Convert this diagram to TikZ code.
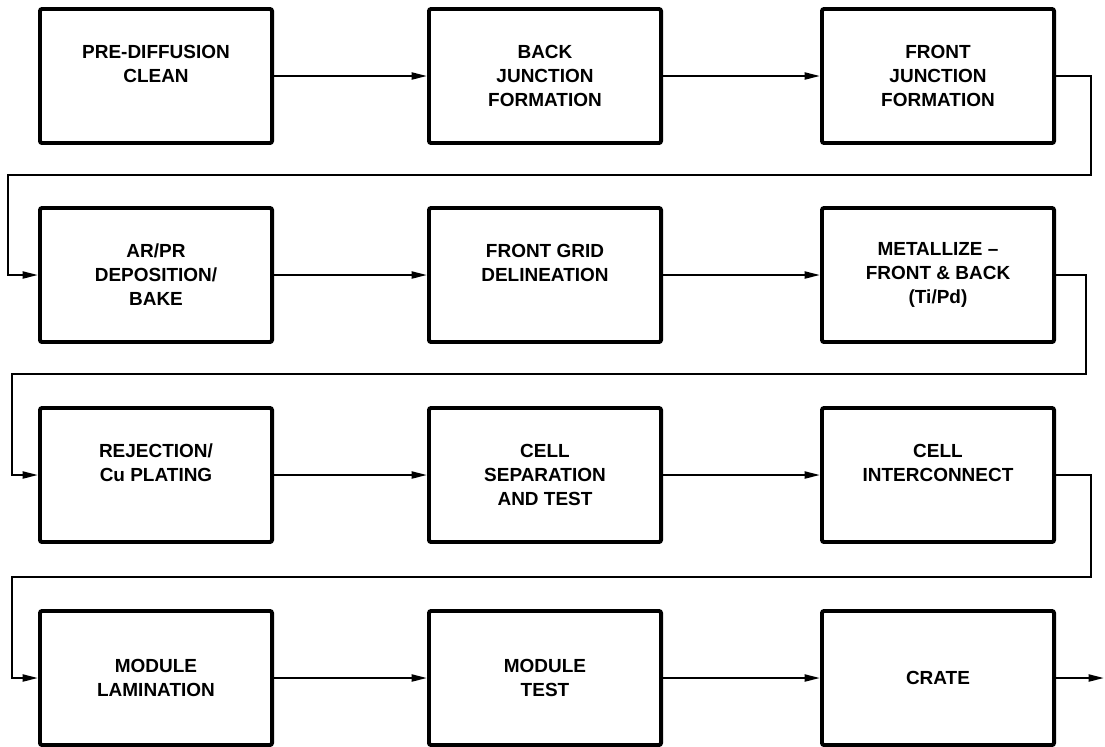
\documentclass[tikz,border=0pt]{standalone}
\usepackage{fontspec}
\setmainfont{Liberation Sans}
\usetikzlibrary{positioning, arrows.meta}

\begin{document}
\begin{tikzpicture}[
    x=0.025cm, y=-0.025cm,
    every node/.style={font=\bfseries\fontsize{13.5}{17}\selectfont},
    stagebox/.style={draw, line width=2.8pt, rounded corners=1.5pt, align=center,
                     minimum width=5.8cm, minimum height=3.35cm, inner sep=0pt},
    arr/.style={-{Triangle[length=11pt, width=5pt]}, line width=1.5pt},
  ]
  \useasboundingbox (0,0) rectangle (1105,746);

  % ── Nodes ────────────────────────────────────────────────────────────────

  % Row 1
  \node[stagebox] (Clean)   at (156, 76)  {PRE-DIFFUSION\\CLEAN\\~};
  \node[stagebox] (BackJ)   at (545, 76)  {BACK\\JUNCTION\\FORMATION};
  \node[stagebox] (FrontJ)  at (938, 76)  {FRONT\\JUNCTION\\FORMATION};

  % Row 2
  \node[stagebox] (ARPR)    at (156, 275) {AR/PR\\DEPOSITION/\\BAKE};
  \node[stagebox] (Grid)    at (545, 275) {FRONT GRID\\DELINEATION\\~};
  \node[stagebox] (Metal)   at (938, 275) {METALLIZE --\\FRONT \& BACK\\(Ti/Pd)};

  % Row 3
  \node[stagebox] (Rej)     at (156, 475) {REJECTION/\\Cu PLATING\\~};
  \node[stagebox] (Sep)     at (545, 475) {CELL\\SEPARATION\\AND TEST};
  \node[stagebox] (Inter)   at (938, 475) {CELL\\INTERCONNECT\\~};

  % Row 4
  \node[stagebox] (Lam)     at (156, 678) {MODULE\\LAMINATION};
  \node[stagebox] (ModTest) at (545, 678) {MODULE\\TEST};
  \node[stagebox] (Crate)   at (938, 678) {CRATE};

  % return lines and exit
  \coordinate (Ret1) at (8, 175);
  \coordinate (Ret2) at (12, 374);
  \coordinate (Ret3) at (12, 577);
  \coordinate (Out)  at (1104, 678);

  % ── Edges ────────────────────────────────────────────────────────────────

  % along each row
  \draw[arr] (Clean)   -- (BackJ);
  \draw[arr] (BackJ)   -- (FrontJ);
  \draw[arr] (ARPR)    -- (Grid);
  \draw[arr] (Grid)    -- (Metal);
  \draw[arr] (Rej)     -- (Sep);
  \draw[arr] (Sep)     -- (Inter);
  \draw[arr] (Lam)     -- (ModTest);
  \draw[arr] (ModTest) -- (Crate);

  % end of a row → start of the next (round the right, back on the left)
  \draw[arr] (FrontJ.east) -- ++(35,0) |- (Ret1) |- (ARPR.west);
  \draw[arr] (Metal.east)  -- ++(30,0) |- (Ret2) |- (Rej.west);
  \draw[arr] (Inter.east)  -- ++(35,0) |- (Ret3) |- (Lam.west);

  % CRATE → out
  \draw[arr] (Crate) -- (Out);

\end{tikzpicture}
\end{document}
